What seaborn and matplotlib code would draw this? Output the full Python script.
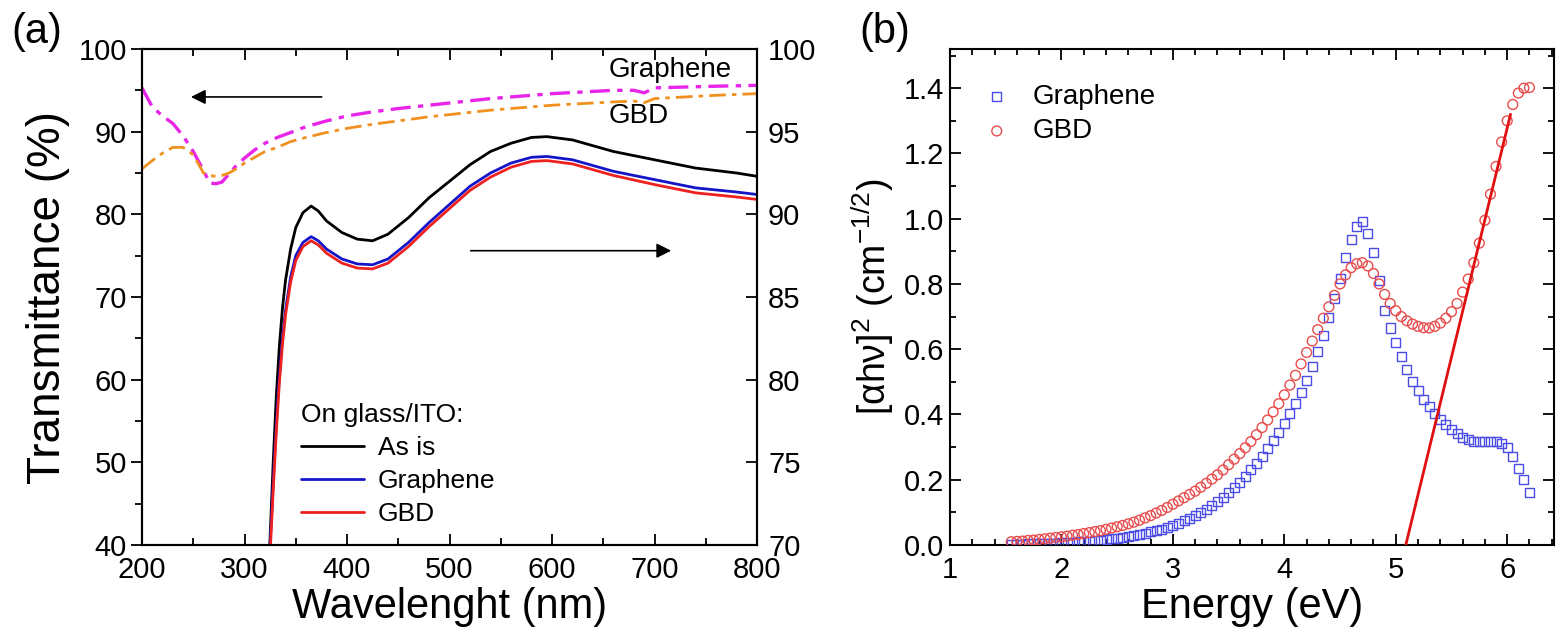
import seaborn as sns
import matplotlib.pyplot as plt
from matplotlib.ticker import MultipleLocator

# ---- panel (a): transmittance ----
wl_film = [200, 210, 220, 230, 240, 250, 260, 266, 272, 278, 285, 292, 300, 310, 320, 332, 345,
           360, 380, 400, 425, 450, 480, 510, 540, 570, 600, 630, 660, 680, 690, 700, 730, 760, 800]
t_graphene_film = [95.3, 93.0, 91.9, 91.0, 89.5, 87.6, 85.3, 83.8, 83.7, 83.9, 84.9, 85.9, 86.8, 87.8,
                   88.6, 89.3, 89.9, 90.6, 91.3, 91.9, 92.4, 92.8, 93.2, 93.6, 94.0, 94.3, 94.6, 94.8,
                   95.0, 95.0, 94.7, 95.3, 95.4, 95.5, 95.6]
t_gbd_film = [85.5, 86.5, 87.4, 88.1, 88.1, 87.2, 85.0, 84.7, 84.6, 84.7, 85.0, 85.5, 86.2, 86.9,
              87.6, 88.1, 88.8, 89.3, 89.9, 90.4, 90.9, 91.3, 91.8, 92.2, 92.6, 92.9, 93.2, 93.4,
              93.6, 93.7, 93.5, 94.0, 94.2, 94.4, 94.6]

wl_ito = [322, 325, 328, 331, 334, 337, 340, 345, 350, 357, 365, 372, 380, 395, 410, 425, 440,
          460, 480, 500, 520, 540, 560, 580, 595, 620, 660, 700, 740, 780, 800]
t_as_is = [66.0, 70.5, 75.0, 79.0, 82.0, 84.3, 86.0, 87.9, 89.2, 90.1, 90.5, 90.2, 89.6, 88.9, 88.5,
           88.4, 88.8, 89.8, 91.0, 92.0, 93.0, 93.8, 94.3, 94.65, 94.7, 94.5, 93.8, 93.3, 92.8,
           92.5, 92.3]
t_graphene_ito = [66.0, 70.0, 73.8, 77.3, 80.2, 82.5, 84.2, 86.2, 87.5, 88.3, 88.65, 88.4, 87.9, 87.3,
                  87.0, 86.95, 87.3, 88.3, 89.5, 90.6, 91.7, 92.5, 93.1, 93.45, 93.5, 93.3, 92.6,
                  92.1, 91.6, 91.35, 91.2]
t_gbd_ito = [65.5, 69.5, 73.3, 76.8, 79.8, 82.1, 83.9, 85.9, 87.2, 88.05, 88.4, 88.15, 87.65, 87.05,
             86.75, 86.7, 87.05, 88.05, 89.25, 90.35, 91.45, 92.25, 92.85, 93.2, 93.25, 93.05,
             92.35, 91.8, 91.3, 91.05, 90.9]

# ---- panel (b): Tauc-type plot ----
energy = [1.55, 1.60, 1.65, 1.70, 1.75, 1.80, 1.85, 1.90, 1.95, 2.00,
          2.05, 2.10, 2.15, 2.20, 2.25, 2.30, 2.35, 2.40, 2.45, 2.50,
          2.55, 2.60, 2.65, 2.70, 2.75, 2.80, 2.85, 2.90, 2.95, 3.00,
          3.05, 3.10, 3.15, 3.20, 3.25, 3.30, 3.35, 3.40, 3.45, 3.50,
          3.55, 3.60, 3.65, 3.70, 3.75, 3.80, 3.85, 3.90, 3.95, 4.00,
          4.05, 4.10, 4.15, 4.20, 4.25, 4.30, 4.35, 4.40, 4.45, 4.50,
          4.55, 4.60, 4.65, 4.70, 4.75, 4.80, 4.85, 4.90, 4.95, 5.00,
          5.05, 5.10, 5.15, 5.20, 5.25, 5.30, 5.35, 5.40, 5.45, 5.50,
          5.55, 5.60, 5.65, 5.70, 5.75, 5.80, 5.85, 5.90, 5.95, 6.00,
          6.05, 6.10, 6.15, 6.20]
abs_graphene = [0.002, 0.003, 0.003, 0.004, 0.004, 0.005, 0.005, 0.006, 0.006, 0.007,
                0.008, 0.009, 0.010, 0.011, 0.012, 0.013, 0.015, 0.017, 0.019, 0.021,
                0.023, 0.026, 0.029, 0.032, 0.036, 0.040, 0.044, 0.049, 0.054, 0.060,
                0.067, 0.074, 0.082, 0.090, 0.099, 0.109, 0.120, 0.132, 0.145, 0.160,
                0.175, 0.192, 0.210, 0.230, 0.250, 0.272, 0.296, 0.320, 0.346, 0.373,
                0.402, 0.433, 0.467, 0.505, 0.547, 0.593, 0.643, 0.697, 0.755, 0.818,
                0.880, 0.935, 0.975, 0.990, 0.955, 0.895, 0.810, 0.720, 0.665, 0.620,
                0.578, 0.537, 0.502, 0.473, 0.447, 0.423, 0.402, 0.384, 0.368, 0.354,
                0.341, 0.330, 0.322, 0.318, 0.316, 0.316, 0.317, 0.318, 0.312, 0.298,
                0.272, 0.235, 0.200, 0.160]
abs_gbd = [0.010, 0.011, 0.012, 0.014, 0.015, 0.017, 0.019, 0.021, 0.023, 0.025,
           0.027, 0.030, 0.032, 0.035, 0.038, 0.041, 0.044, 0.048, 0.052, 0.056,
           0.060, 0.065, 0.070, 0.076, 0.083, 0.090, 0.098, 0.106, 0.115, 0.125,
           0.135, 0.145, 0.155, 0.165, 0.177, 0.189, 0.202, 0.215, 0.230, 0.246,
           0.263, 0.280, 0.298, 0.317, 0.338, 0.360, 0.383, 0.408, 0.433, 0.460,
           0.490, 0.520, 0.555, 0.590, 0.625, 0.660, 0.695, 0.730, 0.765, 0.800,
           0.828, 0.850, 0.862, 0.865, 0.855, 0.832, 0.800, 0.768, 0.740, 0.718,
           0.700, 0.687, 0.677, 0.670, 0.666, 0.665, 0.670, 0.680, 0.695, 0.715,
           0.740, 0.775, 0.815, 0.865, 0.925, 0.995, 1.075, 1.160, 1.235, 1.300,
           1.350, 1.385, 1.400, 1.402]
fit_energy = [5.09, 6.03]
fit_value = [0.0, 1.32]

sns.set_style("ticks")
plt.rcParams["font.family"] = ["Liberation Sans", "DejaVu Sans"]
plt.rcParams["mathtext.fontset"] = "custom"
plt.rcParams["mathtext.rm"] = "Liberation Sans"
plt.rcParams["mathtext.it"] = "Liberation Sans:italic"
plt.rcParams["axes.linewidth"] = 1.5
for key in ["text.color", "axes.labelcolor", "axes.edgecolor", "xtick.color", "ytick.color"]:
    plt.rcParams[key] = "black"

W, H = 1556, 635
fig = plt.figure(figsize=(W / 100, H / 100), dpi=100)
ax1 = fig.add_axes([142 / W, 1 - 545 / H, (757 - 142) / W, (545 - 49) / H])
ax1r = ax1.twinx()
ax2 = fig.add_axes([950 / W, 1 - 545 / H, (1554 - 950) / W, (545 - 49) / H])

dashdot = (0, (6, 2.2, 1.6, 2.2))
sns.lineplot(x=wl_film, y=t_graphene_film, ax=ax1, color="#e824e8", lw=2.4, linestyle=dashdot, sort=False)
sns.lineplot(x=wl_film, y=t_gbd_film, ax=ax1, color="#f0901e", lw=2.0, linestyle=dashdot, sort=False)

sns.lineplot(x=wl_ito, y=t_as_is, ax=ax1r, color="black", lw=2, sort=False, label="As is")
sns.lineplot(x=wl_ito, y=t_graphene_ito, ax=ax1r, color="#1515c8", lw=2, sort=False, label="Graphene")
sns.lineplot(x=wl_ito, y=t_gbd_ito, ax=ax1r, color="#ee2020", lw=2, sort=False, label="GBD")

ax1.set_xlim(200, 800)
ax1.set_ylim(40, 100)
ax1r.set_ylim(70, 100)
ax1.xaxis.set_major_locator(MultipleLocator(100))
ax1.xaxis.set_minor_locator(MultipleLocator(50))
ax1.yaxis.set_major_locator(MultipleLocator(10))
ax1.yaxis.set_minor_locator(MultipleLocator(5))
ax1r.yaxis.set_major_locator(MultipleLocator(5))
ax1.tick_params(axis="x", which="both", direction="in", top=True, labelsize=21, width=1.3, pad=8)
ax1.tick_params(axis="x", which="major", length=8)
ax1.tick_params(axis="x", which="minor", length=5)
ax1.tick_params(axis="y", which="both", direction="out", labelsize=21, width=1.3, pad=3)
ax1.tick_params(axis="y", which="major", length=8)
ax1.tick_params(axis="y", which="minor", length=5)
ax1r.tick_params(axis="y", direction="in", labelsize=21, length=8, width=1.3, pad=8)
ax1.set_xlabel("Wavelenght (nm)", fontsize=30, labelpad=2)
ax1.set_ylabel("Transmittance (%)", fontsize=33, labelpad=6)
ax1r.set_ylabel("")

ax1.annotate("", xy=(245, 94.2), xytext=(378, 94.2),
             arrowprops=dict(arrowstyle="-|>", color="black", lw=1.2, mutation_scale=22))
ax1r.annotate("", xy=(719, 87.8), xytext=(518, 87.8),
              arrowprops=dict(arrowstyle="-|>", color="black", lw=1.2, mutation_scale=22))
ax1.text(655, 97.5, "Graphene", fontsize=20, va="center", ha="left")
ax1.text(655, 91.9, "GBD", fontsize=20, va="center", ha="left")

leg1 = ax1r.legend(title="On glass/ITO:", loc="lower left", bbox_to_anchor=(0.22, -0.01),
                   frameon=False, fontsize=19, title_fontsize=19, handlelength=2.4,
                   handletextpad=0.5, labelspacing=0.35, alignment="left")

sns.scatterplot(x=energy, y=abs_graphene, ax=ax2, marker="s", s=42, facecolor="none",
                edgecolor="#4c4ce6", linewidth=1.0, label="Graphene", zorder=3)
sns.scatterplot(x=energy, y=abs_gbd, ax=ax2, marker="o", s=50, facecolor="none",
                edgecolor="#e84c4c", linewidth=1.0, label="GBD", zorder=3)
sns.lineplot(x=fit_energy, y=fit_value, ax=ax2, color="#e01010", lw=2, zorder=4)

ax2.set_xlim(1, 6.42)
ax2.set_ylim(0, 1.52)
ax2.xaxis.set_major_locator(MultipleLocator(1))
ax2.xaxis.set_minor_locator(MultipleLocator(0.2))
ax2.yaxis.set_major_locator(MultipleLocator(0.2))
ax2.yaxis.set_minor_locator(MultipleLocator(0.1))
ax2.tick_params(which="both", direction="in", top=True, right=True, labelsize=21, width=1.3)
ax2.tick_params(which="major", length=8)
ax2.tick_params(which="minor", length=4)
ax2.tick_params(axis="x", pad=8)
ax2.tick_params(axis="y", pad=4)
ax2.yaxis.set_major_formatter(plt.FormatStrFormatter("%.1f"))
ax2.set_xlabel("Energy (eV)", fontsize=30, labelpad=2)
ax2.set_ylabel("[αhν]$^{2}$ (cm$^{-1/2}$)", fontsize=27, labelpad=6)
ax2.legend(loc="upper left", bbox_to_anchor=(-0.01, 0.98), frameon=False, fontsize=20,
           handletextpad=0.3, labelspacing=0.3, markerscale=1.0)

fig.text(37 / W, 1 - 32 / H, "(a)", fontsize=30, ha="center", va="center")
fig.text(885 / W, 1 - 32 / H, "(b)", fontsize=30, ha="center", va="center")

fig.savefig("out.png", dpi=100)
